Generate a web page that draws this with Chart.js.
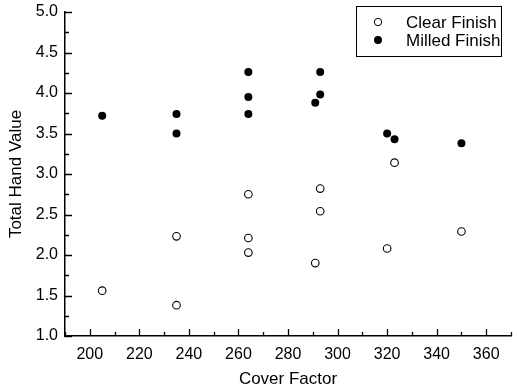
<!DOCTYPE html>
<html>
<head>
<meta charset="utf-8">
<script src="https://cdn.jsdelivr.net/npm/chart.js@4/dist/chart.umd.min.js"></script>
<style>
html,body{margin:0;padding:0;background:#fff;}
#wrap{width:517px;height:391px;}
</style>
</head>
<body>
<div id="wrap"><canvas id="c" width="517" height="391"></canvas></div>
<script>
/* data */
const clearX = [205, 235, 235, 264, 264, 264, 293, 293, 291, 320, 323, 350];
const clearY = [1.56, 2.23, 1.38, 2.75, 2.21, 2.03, 2.82, 2.54, 1.90, 2.08, 3.14, 2.29];
const milledX = [205, 235, 235, 264, 264, 264, 293, 293, 291, 320, 323, 350];
const milledY = [3.72, 3.74, 3.50, 4.26, 3.95, 3.74, 4.26, 3.98, 3.88, 3.50, 3.43, 3.38];
const xTicks = [200, 220, 240, 260, 280, 300, 320, 340, 360];
const yTicks = [1.0, 1.5, 2.0, 2.5, 3.0, 3.5, 4.0, 4.5, 5.0];
const seriesNames = ["Clear Finish", "Milled Finish"];

const FONT = "'Liberation Sans', Arial, sans-serif";

const pts = (xs, ys) => xs.map((x, i) => ({x: x, y: ys[i]}));

/* inward ticks + boxed legend */
const extras = {
id: "extras",
afterDraw(chart){
const ctx = chart.ctx;
const xs = chart.scales.x, ys = chart.scales.y;
const a = chart.chartArea;
ctx.save();
ctx.strokeStyle = "#000";
ctx.lineWidth = 1.3;
ctx.beginPath();
for(let v = 190; v <= 370; v += 10){
const px = Math.round(xs.getPixelForValue(v)) + 0.5;
const len = v % 20 === 0 ? 7 : 4;
ctx.moveTo(px, a.bottom);
ctx.lineTo(px, a.bottom - len);
}
for(let v = 1; v <= 5.001; v += 0.25){
const py = Math.round(ys.getPixelForValue(v)) + 0.5;
const len = Math.abs(v*2 - Math.round(v*2)) < 0.01 ? 7 : 4;
ctx.moveTo(a.left, py);
ctx.lineTo(a.left + len, py);
}
ctx.stroke();

/* legend */
ctx.lineWidth = 1;
ctx.strokeRect(356.5, 6.5, 145, 50);
ctx.font = "17px " + FONT;
ctx.textBaseline = "middle";
ctx.fillStyle = "#000";
chart.data.datasets.forEach((ds, i) => {
const yy = 22 + i * 18;
ctx.beginPath();
ctx.arc(378, yy, i === 0 ? 3.7 : 4, 0, Math.PI * 2);
if(i === 0){ ctx.stroke(); } else { ctx.fill(); }
ctx.fillText(ds.label, 406, yy + 1);
});
ctx.restore();
}
};

new Chart(document.getElementById("c"), {
type: "scatter",
data: {
datasets: [
{
label: seriesNames[0],
data: pts(clearX, clearY),
pointRadius: 3.8,
pointBorderWidth: 1.1,
pointBorderColor: "#000",
pointBackgroundColor: "#fff"
},
{
label: seriesNames[1],
data: pts(milledX, milledY),
pointRadius: 4,
pointBorderWidth: 0,
pointBorderColor: "#000",
pointBackgroundColor: "#000"
}
]
},
options: {
responsive: false,
animation: false,
layout: {padding: {left: 0, top: 0, right: 6, bottom: 0}},
plugins: {legend: {display: false}, tooltip: {enabled: false}},
scales: {
x: {
type: "linear",
min: 190,
max: 370,
afterBuildTicks: s => { s.ticks = xTicks.map(v => ({value: v})); },
afterFit: s => { s.height = 55; },
grid: {drawOnChartArea: false, drawTicks: false},
border: {display: true, color: "#000", width: 1.5},
ticks: {color: "#000", font: {family: FONT, size: 16}, padding: 9, maxRotation: 0},
title: {display: true, text: "Cover Factor", color: "#000", font: {family: FONT, size: 17}, padding: {top: 0, bottom: 1}}
},
y: {
type: "linear",
min: 1,
max: 5,
afterBuildTicks: s => { s.ticks = yTicks.map(v => ({value: v})); },
afterFit: s => { s.width = 65; s.paddingTop = 12; s.paddingBottom = 0; },
grid: {drawOnChartArea: false, drawTicks: false},
border: {display: true, color: "#000", width: 1.5},
ticks: {color: "#000", font: {family: FONT, size: 16}, padding: 7, callback: v => v.toFixed(1)},
title: {display: true, text: "Total Hand Value", color: "#000", font: {family: FONT, size: 17}, padding: {top: 6, bottom: 0}}
}
}
},
plugins: [extras]
});
</script>
</body>
</html>
